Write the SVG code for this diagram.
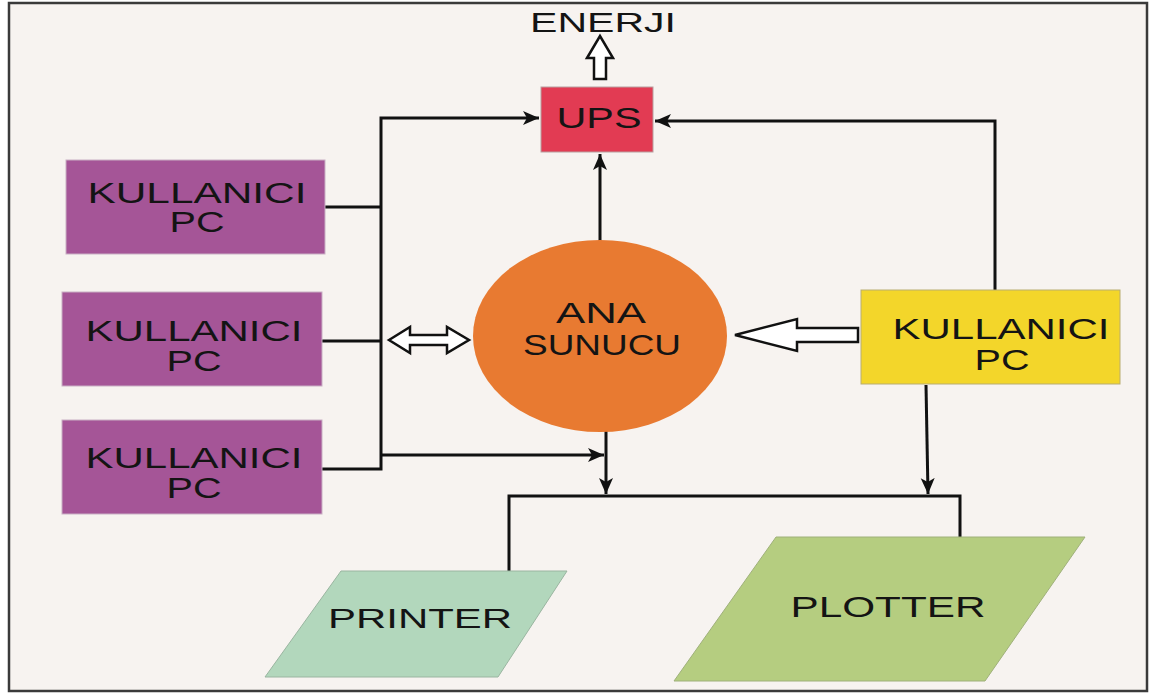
<svg xmlns="http://www.w3.org/2000/svg" width="1149" height="694" viewBox="0 0 1149 694">
<style>
.t{font-family:"Liberation Sans",Arial,sans-serif;fill:#141414;text-anchor:middle}
.c{fill:none;stroke:#111;stroke-width:3}
.h{fill:#fff;stroke:#111;stroke-width:2.5;stroke-linejoin:miter}
</style>
<defs>
<marker id="ah" markerUnits="userSpaceOnUse" markerWidth="18" markerHeight="16" refX="16" refY="8" orient="auto">
<path d="M0,1 L16,8 L0,15 L4,8 z" fill="#111"/>
</marker>
</defs>
<rect x="0" y="0" width="1149" height="694" fill="#fff"/>
<rect x="9" y="3" width="1138" height="688" fill="#f7f3f0" stroke="#3a3a3a" stroke-width="2.5"/>

<g id="connectors">
<polyline class="c" points="325,207 381,207"/>
<polyline class="c" points="322,341 381,341"/>
<polyline class="c" points="322,469 381,469 381,118 539,118" marker-end="url(#ah)"/>
<polyline class="c" points="381,455 604,455" marker-end="url(#ah)"/>
<polyline class="c" points="600,241 600,154" marker-end="url(#ah)"/>
<polyline class="c" points="995,290 995,121 655,121" marker-end="url(#ah)"/>
<polyline class="c" points="606,430 606,494" marker-end="url(#ah)"/>
<polyline class="c" points="926,385 928,494" marker-end="url(#ah)"/>
<polyline class="c" points="509,573 509,496 960,496 960,539"/>
<path class="h" d="M587,58 L600,36 L613,58 L606,58 L606,79 L594,79 L594,58 z"/>
<path class="h" d="M389,340 L410,327 L410,335 L447,335 L447,327 L469,340 L447,353 L447,345 L410,345 L410,353 z"/>
<path class="h" d="M735,335 L797,319 L797,328 L858,328 L858,342 L797,342 L797,351 z"/>
</g>

<g id="energi"><text class="t" x="603" y="32" font-size="28" textLength="146" lengthAdjust="spacingAndGlyphs">ENERJI</text></g>

<g id="ups">
<rect x="541" y="87" width="112" height="65" fill="#e23b53" stroke="#b8a0a0" stroke-width="1"/>
<text class="t" x="599" y="128" font-size="30" textLength="85" lengthAdjust="spacingAndGlyphs">UPS</text>
</g>

<g id="pc1">
<rect x="66" y="160" width="259" height="94" fill="#a55597" stroke="#c9b0c4" stroke-width="1"/>
<text class="t" x="197" y="203" font-size="30" textLength="219" lengthAdjust="spacingAndGlyphs">KULLANICI</text>
<text class="t" x="197" y="232" font-size="30" textLength="55" lengthAdjust="spacingAndGlyphs">PC</text>
</g>
<g id="pc2">
<rect x="62" y="292" width="260" height="94" fill="#a55597" stroke="#c9b0c4" stroke-width="1"/>
<text class="t" x="194" y="341" font-size="30" textLength="217" lengthAdjust="spacingAndGlyphs">KULLANICI</text>
<text class="t" x="194" y="371" font-size="30" textLength="55" lengthAdjust="spacingAndGlyphs">PC</text>
</g>
<g id="pc3">
<rect x="62" y="420" width="260" height="94" fill="#a55597" stroke="#c9b0c4" stroke-width="1"/>
<text class="t" x="194" y="468" font-size="30" textLength="217" lengthAdjust="spacingAndGlyphs">KULLANICI</text>
<text class="t" x="194" y="498" font-size="30" textLength="55" lengthAdjust="spacingAndGlyphs">PC</text>
</g>

<g id="ana-sunucu">
<ellipse cx="600" cy="336" rx="127" ry="96" fill="#e87a31"/>
<text class="t" x="601" y="323" font-size="30" textLength="90" lengthAdjust="spacingAndGlyphs">ANA</text>
<text class="t" x="602" y="355" font-size="30" textLength="158" lengthAdjust="spacingAndGlyphs">SUNUCU</text>
</g>

<g id="pc4">
<rect x="861" y="290" width="259" height="94" fill="#f3d62a" stroke="#b9ad70" stroke-width="1"/>
<text class="t" x="1001" y="339" font-size="30" textLength="217" lengthAdjust="spacingAndGlyphs">KULLANICI</text>
<text class="t" x="1002" y="370" font-size="30" textLength="55" lengthAdjust="spacingAndGlyphs">PC</text>
</g>

<g id="printer">
<polygon points="341,571 567,571 498,677 265,677" fill="#b2d7bc" stroke="#9ab5a0" stroke-width="1"/>
<text class="t" x="420" y="628" font-size="28" textLength="184" lengthAdjust="spacingAndGlyphs">PRINTER</text>
</g>

<g id="plotter">
<polygon points="776,537 1085,537 985,681 674,681" fill="#b5cd80" stroke="#9fb07a" stroke-width="1"/>
<text class="t" x="888" y="617" font-size="30" textLength="195" lengthAdjust="spacingAndGlyphs">PLOTTER</text>
</g>
</svg>
